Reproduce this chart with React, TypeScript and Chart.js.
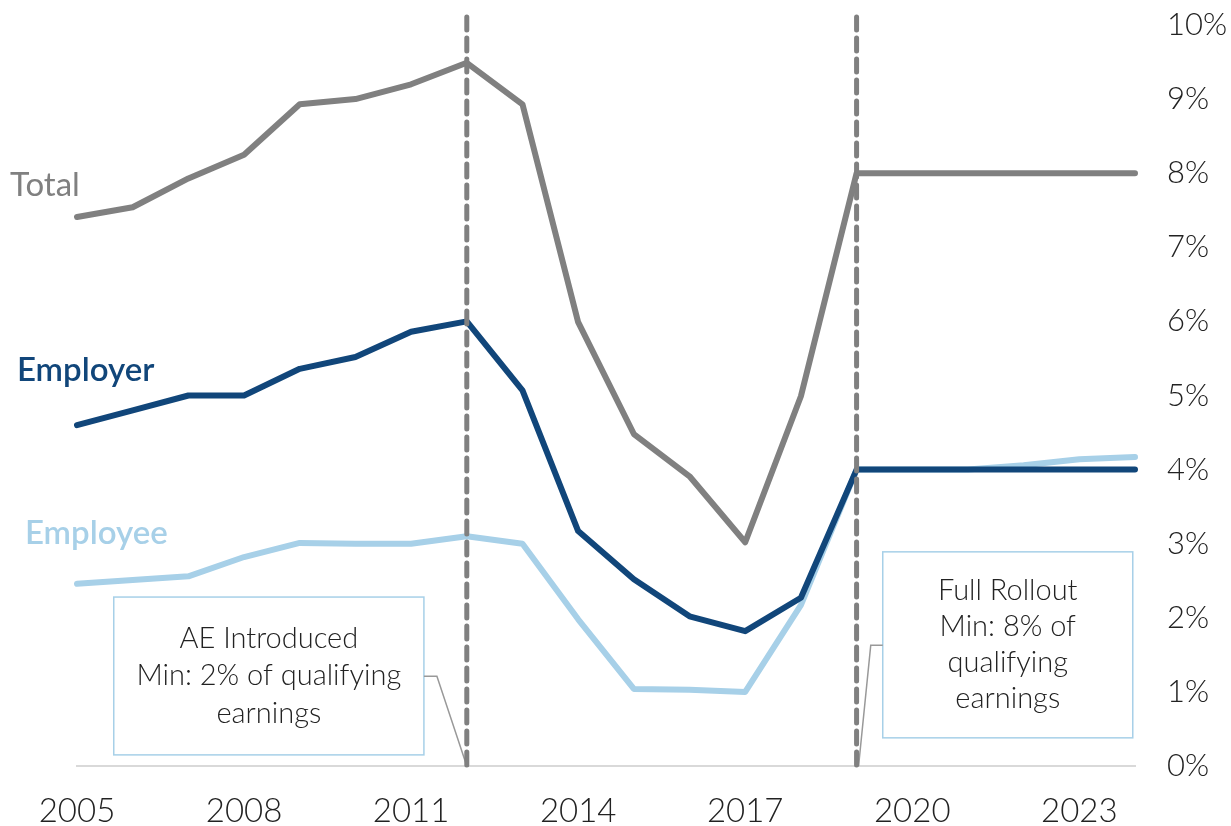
import React, { useEffect, useRef } from "react";
import { Chart, registerables } from "chart.js";

Chart.register(...registerables);

const years = [
  "2005", "2006", "2007", "2008", "2009", "2010", "2011", "2012", "2013", "2014",
  "2015", "2016", "2017", "2018", "2019", "2020", "2021", "2022", "2023", "2024",
];
const totalValues = [7.41, 7.54, 7.93, 8.25, 8.93, 9.0, 9.2, 9.49, 8.93, 5.99, 4.48, 3.91, 3.02, 4.99, 8.0, 8.0, 8.0, 8.0, 8.0, 8.0];
const employerValues = [4.6, 4.8, 5.0, 5.0, 5.36, 5.52, 5.86, 6.0, 5.07, 3.17, 2.52, 2.02, 1.82, 2.27, 4.0, 4.0, 4.0, 4.0, 4.0, 4.0];
const employeeValues = [2.46, 2.51, 2.56, 2.82, 3.01, 3.0, 3.0, 3.1, 3.0, 1.98, 1.04, 1.03, 1.0, 2.17, 4.0, 4.0, 4.0, 4.06, 4.14, 4.17];
const tickYears = ["2005", "2008", "2011", "2014", "2017", "2020", "2023"];
const markerYears = ["2012", "2019"];
const seriesNames = ["Total", "Employer", "Employee"];
const seriesLabelY = [7.84, 5.34, 3.14];
const aeLines = ["AE Introduced", "Min: 2% of qualifying", "earnings"];
const rolloutLines = ["Full Rollout", "Min: 8% of", "qualifying", "earnings"];

const GRAY = "#808080";
const NAVY = "#11467a";
const LIGHT = "#a7d0e8";
const FONT = "Lato, 'Open Sans', sans-serif";

export default function App() {
  const ref = useRef<HTMLCanvasElement | null>(null);

  useEffect(() => {
    document.body.style.margin = "0";
    const canvas = ref.current;
    if (!canvas) return;

    const overlay = {
      id: "overlay",
      afterDatasetsDraw(chart: any) {
        const ctx = chart.ctx;
        const xs = chart.scales.x;
        const ys = chart.scales.y;
        const bottom = ys.getPixelForValue(0);
        ctx.save();

        const drawBox = (x0: number, x1: number, y0: number, y1: number, lines: string[], lh: number) => {
          const px0 = xs.getPixelForValue(x0);
          const px1 = xs.getPixelForValue(x1);
          const py0 = ys.getPixelForValue(y0);
          const py1 = ys.getPixelForValue(y1);
          ctx.fillStyle = "#ffffff";
          ctx.fillRect(px0, py1, px1 - px0, py0 - py1);
          ctx.strokeStyle = LIGHT;
          ctx.lineWidth = 1.5;
          ctx.strokeRect(px0, py1, px1 - px0, py0 - py1);
          ctx.fillStyle = "#222222";
          ctx.font = `300 29px ${FONT}`;
          ctx.textAlign = "center";
          ctx.textBaseline = "middle";
          const cx = (px0 + px1) / 2;
          const cy = (py0 + py1) / 2;
          const n = lines.length;
          lines.forEach((t, i) => {
            ctx.fillText(t, cx, cy + (i - (n - 1) / 2) * lh);
          });
          return { px0, px1, py0, py1 };
        };

        const mx1 = xs.getPixelForValue(years.indexOf(markerYears[0]));
        const mx2 = xs.getPixelForValue(years.indexOf(markerYears[1]));

        const b1 = drawBox(0.66, 6.23, 0.15, 2.28, aeLines, 37.5);
        ctx.strokeStyle = "#999999";
        ctx.lineWidth = 1.5;
        ctx.beginPath();
        ctx.moveTo(b1.px1, ys.getPixelForValue(1.21));
        ctx.lineTo(b1.px1 + 13, ys.getPixelForValue(1.21));
        ctx.lineTo(mx1, bottom);
        ctx.stroke();

        const b2 = drawBox(14.47, 18.96, 0.38, 2.89, rolloutLines, 36);
        ctx.strokeStyle = "#999999";
        ctx.lineWidth = 1.5;
        ctx.beginPath();
        ctx.moveTo(b2.px0, ys.getPixelForValue(1.63));
        ctx.lineTo(b2.px0 - 12, ys.getPixelForValue(1.63));
        ctx.lineTo(mx2 + 2, bottom);
        ctx.stroke();

        ctx.strokeStyle = GRAY;
        ctx.lineWidth = 5;
        ctx.setLineDash([13, 8]);
        ctx.lineCap = "round";
        [mx1, mx2].forEach((x) => {
          ctx.beginPath();
          ctx.moveTo(x, chart.chartArea.top - 8);
          ctx.lineTo(x, bottom);
          ctx.stroke();
        });
        ctx.setLineDash([]);

        const colors = [GRAY, NAVY, LIGHT];
        const offsets = [-67, -60, -52];
        const weights = ["400", "600", "600"];
        const sizes = [33, 33, 33];
        ctx.textAlign = "left";
        ctx.textBaseline = "middle";
        seriesNames.forEach((name, i) => {
          ctx.fillStyle = colors[i];
          ctx.font = `${weights[i]} ${sizes[i]}px ${FONT}`;
          ctx.fillText(name, chart.chartArea.left + offsets[i], ys.getPixelForValue(seriesLabelY[i]));
        });
        ctx.restore();
      },
    };

    const chart = new Chart(canvas, {
      type: "line",
      data: {
        labels: years,
        datasets: [
          { label: "Employer", data: employerValues, borderColor: NAVY, borderWidth: 6, pointRadius: 0, tension: 0, borderCapStyle: "round", borderJoinStyle: "round" },
          { label: "Total", data: totalValues, borderColor: GRAY, borderWidth: 6, pointRadius: 0, tension: 0, borderCapStyle: "round", borderJoinStyle: "round" },
          { label: "Employee", data: employeeValues, borderColor: LIGHT, borderWidth: 6, pointRadius: 0, tension: 0, borderCapStyle: "round", borderJoinStyle: "round" },
        ],
      },
      options: {
        responsive: false,
        animation: false,
        layout: { padding: { left: 77, right: 0, top: 25, bottom: 0 } },
        plugins: { legend: { display: false }, tooltip: { enabled: false } },
        scales: {
          x: {
            type: "category",
            offset: false,
            grid: { display: false, drawTicks: false },
            border: { display: true, color: "#d9d9d9", width: 2 },
            afterFit: (s: any) => {
              s.height = 60;
              s.paddingLeft = 0;
              s.paddingRight = 0;
            },
            ticks: {
              autoSkip: false,
              maxRotation: 0,
              padding: 26,
              color: "#222222",
              font: { family: FONT, size: 33, weight: "300" },
              callback: function (this: any, v: any) {
                const lab = years[v as number];
                return tickYears.includes(lab) ? lab : "";
              },
            },
          },
          y: {
            position: "right",
            min: 0,
            max: 10,
            grid: { display: false, drawTicks: false },
            border: { display: false },
            afterFit: (s: any) => {
              s.width = 96;
              s.paddingTop = 0;
              s.paddingBottom = 0;
            },
            ticks: {
              stepSize: 1,
              padding: 32,
              color: "#222222",
              font: { family: FONT, size: 31, weight: "300" },
              callback: (v: any) => `${v}%`,
            },
          },
        },
      },
      plugins: [overlay],
    });
    return () => chart.destroy();
  }, []);

  return (
    <div style={{ position: "absolute", left: 0, top: 0, width: 1231, height: 826 }}>
      <canvas ref={ref} width={1231} height={826} />
    </div>
  );
}
